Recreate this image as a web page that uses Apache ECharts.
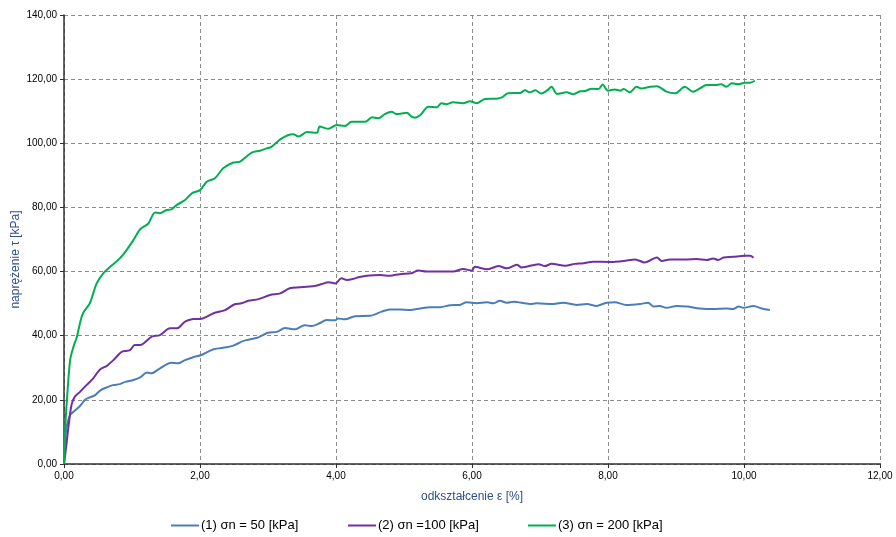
<!DOCTYPE html>
<html>
<head>
<meta charset="utf-8">
<script src="https://cdn.jsdelivr.net/npm/echarts@6/dist/echarts.min.js"></script>
<style>html,body{margin:0;padding:0;background:#fff}#c{width:896px;height:537px}</style>
</head>
<body>
<div id="c"></div>
<script>
var seriesNames = ['(1) σn = 50 [kPa]', '(2) σn =100 [kPa]', '(3) σn = 200 [kPa]'];
var xAxisTicks = [0, 2, 4, 6, 8, 10, 12];
var yAxisTicks = [0, 20, 40, 60, 80, 100, 120, 140];

var blueX = [0,0.02,0.04,0.09,0.14,0.235,0.31,0.38,0.46,0.53,0.63,0.72,0.82,0.90,1.02,1.12,1.22,1.29,1.39,1.58,1.68,1.78,1.90,2.02,2.2,2.39,2.49,2.64,2.74,2.86,3.0,3.13,3.25,3.40,3.54,3.64,3.76,3.86,3.99,4.03,4.13,4.28,4.50,4.67,4.79,4.94,5.09,5.24,5.38,5.53,5.68,5.82,5.92,6.07,6.22,6.31,6.41,6.51,6.61,6.85,6.95,7.20,7.34,7.54,7.69,7.83,7.98,8.10,8.27,8.47,8.59,8.67,8.76,8.86,9.01,9.16,9.35,9.55,9.74,9.84,9.92,9.99,10.14,10.26,10.38];
var blueY = [0,8,11.6,15.3,16.3,18.1,20,20.8,21.5,22.9,23.9,24.6,24.9,25.6,26.2,27.0,28.5,28.3,29.5,31.6,31.4,32.4,33.3,34.0,35.8,36.4,36.9,38.4,38.9,39.5,40.9,41.2,42.4,42.0,43.3,43.0,43.9,44.9,44.8,45.4,45.1,46.1,46.2,47.5,48.2,48.2,48.0,48.5,48.9,48.9,49.5,49.6,50.4,50.1,50.4,50.1,50.9,50.3,50.6,49.9,50.1,49.9,50.3,49.6,49.9,49.3,50.3,50.4,49.6,49.9,50.3,49.1,49.3,48.7,49.3,49.1,48.5,48.3,48.5,48.3,49.1,48.7,49.3,48.5,48.0];

var purpleX = [0,0.03,0.06,0.11,0.16,0.235,0.33,0.43,0.53,0.63,0.75,0.85,0.97,1.04,1.12,1.29,1.41,1.56,1.66,1.78,1.90,2.02,2.2,2.37,2.51,2.61,2.71,2.86,3.03,3.18,3.32,3.47,3.57,3.69,3.79,3.89,3.99,4.08,4.16,4.25,4.33,4.43,4.65,4.79,4.94,5.11,5.21,5.33,5.53,5.72,5.87,6.0,6.04,6.22,6.39,6.51,6.66,6.73,6.98,7.07,7.17,7.37,7.51,7.64,7.78,8.03,8.23,8.40,8.54,8.72,8.79,8.91,9.16,9.30,9.45,9.55,9.62,9.70,9.84,10.01,10.09,10.14];
var purpleY = [0,5,10.6,18.4,21,22.5,24.6,26.7,29.5,30.6,32.9,35.0,35.5,37.1,37.1,39.7,40.2,42.3,42.3,44.4,45.2,45.3,47,48,49.8,50.1,50.9,51.4,52.7,53.2,54.8,55.1,55.3,55.5,56.1,56.7,56.3,57.9,57.4,57.7,58.2,58.6,58.9,58.7,59.2,59.5,60.3,60.0,60.0,60.0,60.8,60.3,61.5,60.7,61.7,61.0,62.1,61.3,62.3,61.7,62.4,61.8,62.4,62.6,63.1,63.0,63.3,63.8,62.8,64.4,63.3,63.8,63.8,63.9,63.6,64.1,63.6,64.4,64.6,64.9,64.9,64.3];

var greenX = [0,0.02,0.04,0.09,0.14,0.19,0.235,0.28,0.38,0.43,0.48,0.58,0.68,0.82,0.92,1.02,1.12,1.24,1.34,1.41,1.51,1.58,1.66,1.78,1.88,2.0,2.10,2.22,2.34,2.49,2.59,2.76,2.88,2.98,3.05,3.18,3.30,3.37,3.45,3.57,3.72,3.76,3.89,4.01,4.13,4.23,4.43,4.53,4.62,4.72,4.82,4.89,5.04,5.11,5.16,5.24,5.36,5.48,5.55,5.63,5.72,5.87,5.97,6.07,6.19,6.36,6.44,6.53,6.71,6.78,6.85,6.93,7.02,7.10,7.17,7.25,7.39,7.49,7.59,7.66,7.76,7.86,7.92,8.0,8.10,8.18,8.23,8.32,8.42,8.49,8.62,8.72,8.86,8.99,9.13,9.25,9.35,9.45,9.60,9.67,9.74,9.82,9.92,10.01,10.09,10.16];
var greenY = [0,12,19,32.4,36.6,39.7,43.9,47,50.1,53.2,56.3,59.5,61.5,64.1,66.7,69.8,73.2,75.0,78.4,78.2,79.2,79.4,80.8,82.3,84.4,85.4,88.0,89.1,92.2,94.0,94.3,97.1,97.7,98.4,98.9,101.2,102.6,102.8,102.1,103.5,103.3,105.2,104.5,105.7,105.4,106.7,106.7,108.1,107.8,109.1,109.8,109.1,109.5,108.3,108.0,108.8,111.4,111.2,112.5,112.2,112.8,112.5,113.1,112.5,113.8,113.9,114.3,115.6,115.7,116.5,115.9,116.5,115.5,116.4,117.6,115.4,115.9,115.3,116.2,116.3,117.0,116.9,118.3,116.4,116.8,116.4,116.9,115.9,117.6,117.1,117.6,117.8,116.1,115.6,117.6,116.1,117.1,118.2,118.2,118.4,117.6,118.7,118.4,118.9,118.9,119.5];

function pairs(xs, ys) { return xs.map(function (x, i) { return [x, ys[i]]; }); }
function fmt(v) { return v.toFixed(2).replace('.', ','); }

var colors = ['#4A7EBB', '#7030A0', '#00B050'];
var font = 'Liberation Sans, Arial, sans-serif';

var chart = echarts.init(document.getElementById('c'), null, { renderer: 'canvas' });

function legendAt(name, left) {
  return {
    data: [name], left: left, top: 514, itemWidth: 28, itemHeight: 2, itemGap: 0,
    icon: 'rect', textStyle: { fontFamily: font, fontSize: 13, color: '#000', padding: [0, 0, 0, -3] }
  };
}

chart.setOption({
  animation: false,
  backgroundColor: '#fff',
  color: colors,
  grid: { left: 64, right: 16, top: 15, bottom: 73, containLabel: false, outerBoundsMode: 'none' },
  legend: [legendAt(seriesNames[0], 166), legendAt(seriesNames[1], 343), legendAt(seriesNames[2], 523)],
  xAxis: {
    type: 'value', min: xAxisTicks[0], max: xAxisTicks[xAxisTicks.length - 1], interval: 2,
    name: 'odkształcenie ε [%]', nameLocation: 'middle', nameGap: 27, nameMoveOverlap: false,
    nameTextStyle: { fontFamily: font, fontSize: 12, color: '#2E4F8A' },
    axisLine: { show: true, onZero: false, lineStyle: { color: '#303030', width: 1.5 } },
    axisTick: { show: true, length: 4, lineStyle: { color: '#303030' } },
    axisLabel: { fontFamily: font, fontSize: 10, color: '#000', margin: 7, formatter: fmt },
    splitLine: { show: true, lineStyle: { color: '#8c8c8c', type: [4, 3], width: 1 } }
  },
  yAxis: {
    type: 'value', min: yAxisTicks[0], max: yAxisTicks[yAxisTicks.length - 1], interval: 20,
    name: 'naprężenie τ [kPa]', nameLocation: 'middle', nameGap: 42, nameRotate: 90, nameMoveOverlap: false,
    nameTextStyle: { fontFamily: font, fontSize: 12, color: '#2E4F8A', padding: [0, 40, 0, 0] },
    axisLine: { show: true, onZero: false, lineStyle: { color: '#303030', width: 1.5 } },
    axisTick: { show: true, length: 4, lineStyle: { color: '#303030' } },
    axisLabel: { fontFamily: font, fontSize: 10, color: '#000', margin: 7, formatter: fmt },
    splitLine: { show: true, lineStyle: { color: '#8c8c8c', type: [4, 3], width: 1 } }
  },
  series: [
    { name: seriesNames[0], type: 'line', data: pairs(blueX, blueY), symbol: 'none', smooth: 0.3, lineStyle: { width: 2, color: colors[0] } },
    { name: seriesNames[1], type: 'line', data: pairs(purpleX, purpleY), symbol: 'none', smooth: 0.3, lineStyle: { width: 2, color: colors[1] } },
    { name: seriesNames[2], type: 'line', data: pairs(greenX, greenY), symbol: 'none', smooth: 0.3, lineStyle: { width: 2, color: colors[2] } }
  ]
});
</script>
</body>
</html>
